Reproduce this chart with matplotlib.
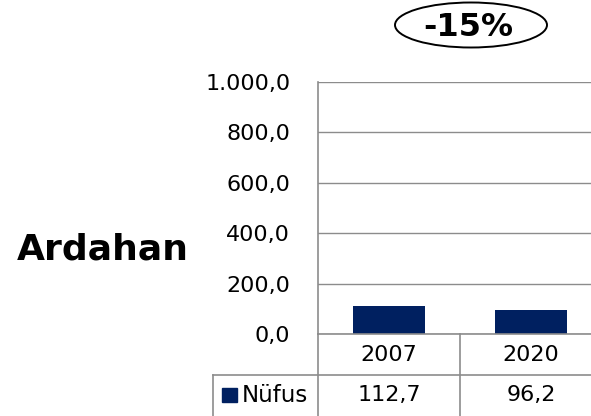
import matplotlib
matplotlib.use("Agg")
import matplotlib.pyplot as plt
from matplotlib.patches import Ellipse, Rectangle
from matplotlib.lines import Line2D

categories = ["2007", "2020"]
values = [112.7, 96.2]
value_labels = ["112,7", "96,2"]
series_name = "Nüfus"
yticks = [0, 200, 400, 600, 800, 1000]
ytick_labels = ["0,0", "200,0", "400,0", "600,0", "800,0", "1.000,0"]
title = "Ardahan"
change_label = "-15%"

W, H = 591, 416
fig = plt.figure(figsize=(W / 100, H / 100), dpi=100)
plt.rcParams['font.family'] = ['DejaVu Sans']

def fx(px):
    return px / W

def fy(py):
    return 1 - py / H

bar_color = "#002060"
line_color = "#8c8c8c"

# plot area: x 318..602 px, y 82..334 px
ax_left, ax_right, ax_top, ax_bottom = 318, 602, 82, 334
ax = fig.add_axes([fx(ax_left), fy(ax_bottom), fx(ax_right - ax_left), (ax_bottom - ax_top) / H])
x = list(range(len(categories)))
ax.bar(x, values, width=0.51, color=bar_color, zorder=3)
ax.set_xlim(-0.5, len(categories) - 0.5)
ax.set_ylim(0, 1000)
ax.set_yticks(yticks)
ax.set_yticklabels(ytick_labels, fontsize=16)
ax.tick_params(axis='y', length=0, pad=20)
ax.set_xticks([])
ax.grid(axis='y', color=line_color, linewidth=1, zorder=0)
for s in ["top", "right", "bottom"]:
    ax.spines[s].set_visible(False)
ax.spines["left"].set_color(line_color)
ax.spines["left"].set_linewidth(1.2)

# data table
col_w = (ax_right - ax_left) / len(categories)
def hline(y, x0, x1):
    fig.add_artist(Line2D([fx(x0), fx(x1)], [fy(y), fy(y)], color=line_color, linewidth=1.2))
def vline(x0, y0, y1):
    fig.add_artist(Line2D([fx(x0), fx(x0)], [fy(y0), fy(y1)], color=line_color, linewidth=1.2))

hline(334, 318, 600)
hline(375, 213, 600)
vline(318, 334, 416)
vline(213, 375, 416)
for i in range(1, len(categories)):
    vline(ax_left + col_w * i, 334, 416)

for i, (c, v) in enumerate(zip(categories, value_labels)):
    cx = ax_left + col_w * (i + 0.5)
    fig.text(fx(cx), fy(355), c, ha='center', va='center', fontsize=16)
    fig.text(fx(cx), fy(395), v, ha='center', va='center', fontsize=16)

# legend key
fig.add_artist(Rectangle((fx(222), fy(402)), fx(15), 14 / H, color=bar_color))
fig.text(fx(242), fy(395), series_name, ha='left', va='center', fontsize=16.5)

# title
fig.text(fx(103), fy(250), title, ha='center', va='center', fontsize=26, fontweight='bold')

# change ellipse
fig.add_artist(Ellipse((fx(471), fy(25)), fx(152), 45 / H, fill=False, edgecolor='black', linewidth=1.4))
fig.text(fx(468), fy(27), change_label, ha='center', va='center', fontsize=23, fontweight='bold')

fig.savefig("out.png", dpi=100)
